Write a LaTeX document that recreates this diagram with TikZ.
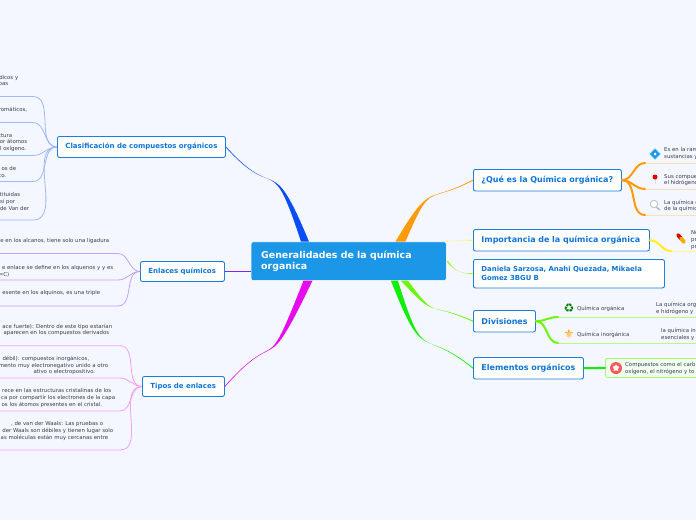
\documentclass[tikz,border=0pt]{standalone}
\usepackage{fontspec}
\setmainfont{DejaVu Sans}
\usepackage{tikz}
\usetikzlibrary{shapes.geometric, arrows.meta, positioning, calc}
\definecolor{pagecol}{HTML}{F4F7FF}
\definecolor{rootcol}{HTML}{1C97E8}
\definecolor{edgecol}{HTML}{1B7FDC}
\definecolor{headcol}{HTML}{0F74D6}
\definecolor{notecol}{HTML}{3C3C48}
\definecolor{bluecol}{HTML}{0B4DF5}
\definecolor{violetcol}{HTML}{7A2BF2}
\definecolor{magcol}{HTML}{E60CEF}
\definecolor{orangecol}{HTML}{FF9A0A}
\definecolor{yellowcol}{HTML}{FFF01A}
\definecolor{limecol}{HTML}{A4F52A}
\definecolor{lightgreen}{HTML}{6CF50F}
\definecolor{greencol}{HTML}{10EE0A}
% right end of a line cut off by the left margin
\newcommand{\cutl}[2]{\makebox[#1pt][r]{#2}}
% tapered branch from the root border to a topic border
\newcommand{\taper}[6]{\fill[#1] ($(#2)+(-#6,0)$) .. controls #4 and #5 .. ($(#3)+(0,-0.55)$) -- ($(#3)+(0,0.55)$) .. controls #5 and #4 .. ($(#2)+(#6,0)$) -- cycle;}
\begin{document}
\begin{tikzpicture}[
    x=1pt, y=-1pt,
    topic/.style={draw=edgecol, line width=0.9pt, rounded corners=2pt, fill=white, text=headcol,
                  font=\fontsize{7}{9}\selectfont\bfseries, inner xsep=8pt, inner ysep=0pt, anchor=north west, align=left},
    rtopic/.style={topic, font=\fontsize{8}{10}\selectfont\bfseries},
    note/.style={text=notecol, font=\fontsize{5.4}{6.6}\selectfont, inner sep=0pt, anchor=west, align=left},
    sub/.style={line width=0.8pt},
    lead/.style={line width=2pt, line cap=round},
    icon/.style={inner sep=0pt, font=\fontsize{12}{12}\selectfont},
]
\fill[pagecol] (0,0) rectangle (696,520);
\useasboundingbox (0,0) rectangle (696,520);
\clip (0,0) rectangle (696,520);
% root and topics
\node[draw=white, line width=0.4pt, fill=rootcol, rounded corners=2pt, inner sep=0pt, anchor=north west,
      minimum width=195pt, minimum height=38.5pt] (root) at (251,241.7) {};
\node[text=white, inner sep=0pt, anchor=west, align=left, font=\fontsize{9.4}{11}\selectfont\bfseries] (roottxt) at (261,261)
     {Generalidades de la química\\organica};
\node[topic, text width=152pt, minimum height=21pt] (clas) at (57,136) {Clasificación de compuestos orgánicos};
\node[topic, text width=68pt, minimum height=20pt] (enla) at (140,261) {Enlaces químicos};
\node[topic, text width=66pt, minimum height=20pt] (tipo) at (142,376) {Tipos de enlaces};
\node[rtopic, text width=132pt, minimum height=21.5pt] (que) at (473,169) {¿Qué es la Química orgánica?};
\node[rtopic, text width=160pt, minimum height=21.5pt] (impo) at (473,229) {Importancia de la química orgánica};
\node[topic, text width=175pt, minimum height=28.5pt, font=\fontsize{6.9}{9}\selectfont\bfseries] (dani) at (473,259) {Daniela Sarzosa, Anahi Quezada, Mikaela\\Gomez 3BGU B};
\node[rtopic, text width=46pt, minimum height=21.5pt] (divi) at (473,310) {Divisiones};
\node[rtopic, text width=94pt, minimum height=21.5pt] (elem) at (473,357) {Elementos orgánicos};
% branches from the root
\taper{bluecol}{$(root.north west)+(54,0)$}{clas.east}{(270,147)}{(278,205)}{4}
\taper{magcol}{$(root.south west)+(57,0)$}{tipo.east}{(262,386)}{(282,322)}{4.5}
\taper{orangecol}{$(root.north east)+(-46,0)$}{que.west}{(432,180)}{(425,205)}{5}
\taper{yellowcol}{$(root.north east)+(-4,0)$}{impo.west}{(455,240)}{(465,240)}{1.5}
\taper{limecol}{$(root.east)+(1,0)$}{dani.west}{(455,273)}{(465,273.5)}{1}
\taper{lightgreen}{$(root.south east)+(-42,0)$}{divi.west}{(438,321)}{(425,300)}{3.5}
\taper{greencol}{$(root.south east)+(-52,0)$}{elem.west}{(425,368)}{(420,325)}{3.5}
\draw[violetcol, line width=0.9pt] (root.west|-enla.east) -- (enla.east);
% clasificacion notes
\coordinate (c1) at (0,96.5);
\coordinate (c2) at (0,122.5);
\coordinate (c3) at (0,155.5);
\coordinate (c4) at (0,181.5);
\coordinate (c5) at (0,220);
\foreach \n in {c1,c2,c3,c4,c5}
  \draw[sub, bluecol!40] (clas.west) to[out=180, in=0] (\n-|33,0) -- (\n);
\node[note] (n1) at (0,81) {\cutl{18}{dicos y}\\\cutl{8}{pas}};
\node[note] (n2) at (0,110) {\cutl{27}{romáticos,}};
\node[note] (n3) at (0,142.5) {\cutl{12}{ctura}\\\cutl{27}{or átomos}\\\cutl{26}{l oxígeno.}};
\node[note] (n4) at (0,172) {\cutl{16}{os de}\\\cutl{6}{co.}};
\node[note] (n5) at (0,201.5) {\cutl{20}{stituidas}\\\cutl{15}{sí por}\\\cutl{29}{de Van der}};
% enlaces notes
\coordinate (e1) at (0,253.5);
\coordinate (e2) at (0,280);
\coordinate (e3) at (0,306);
\foreach \n in {e1,e2,e3}
  \draw[sub, violetcol!45] (enla.west) to[out=180, in=0] (\n-|118,0) -- (\n);
\node[note] (n6) at (0,241) {\cutl{109}{e en los alcanos, tiene solo una ligadura}};
\node[note] (n7) at (0,271) {\cutl{113}{e enlace se define en los alquenos y y es}\\\cutl{9}{=C)}};
\node[note] (n8) at (0,293) {\cutl{100}{esente en los alquinos, es una triple}};
% tipos notes
\coordinate (t1) at (0,345.7);
\coordinate (t2) at (0,378);
\coordinate (t3) at (0,411);
\coordinate (t4) at (0,450);
\foreach \n in {t1,t2,t3,t4}
  \draw[sub, magcol!40] (tipo.west) to[out=180, in=0] (\n-|120,0) -- (\n);
\node[note] (n9) at (0,330) {\cutl{112}{ace fuerte): Dentro de este tipo estarían}\\\cutl{109}{aparecen en los compuestos derivados}};
\node[note] (n10) at (0,365.5) {\cutl{89}{débil): compuestos inorgánicos,}\\\cutl{108}{mento muy electronegativo unido a otro}\\\cutl{95}{ativo o electropositivo.}};
\node[note] (n11) at (0,398) {\cutl{111}{rece en las estructuras cristalinas de los}\\\cutl{115}{ca por compartir los electrones de la capa}\\\cutl{102}{os los átomos presentes en el cristal.}};
\node[note] (n12) at (0,431) {\cutl{103}{, de van der Waals: Las pruebas o}\\\cutl{113}{der Waals son débiles y tienen lugar solo}\\\cutl{108}{las moléculas están muy cercanas entre}};
% que es notes
\coordinate (q1) at (696,163);
\coordinate (q2) at (696,189);
\coordinate (q3) at (696,215);
\draw[sub, orangecol!30] (645,163) -- (q1);
\draw[sub, orangecol!30] (645,189) -- (q2);
\draw[sub, orangecol!30] (645,215) -- (q3);
\draw[lead, orangecol] (que.east) to[out=0, in=180] (645,163);
\draw[lead, orangecol] (que.east) to[out=0, in=180] (645,189);
\draw[lead, orangecol] (que.east) to[out=0, in=180] (645,215);
\node[note] (r1) at (664,153.5) {Es en la ram\\sustancias y};
\node[note] (r2) at (664,180) {Sus compues\\el hidrógeno};
\node[note] (r3) at (664,206) {La química c\\de la químic};
\node[diamond, fill=rootcol, draw=cyan!60, minimum size=11pt, inner sep=0pt] (ic1) at (655,154) {};
\fill[white] (ic1) circle (1.5);
\draw[gray!30, line width=0.7pt] (655,178) -- (655,184);
\node[circle, fill=red!85!black, minimum size=5pt, inner sep=0pt] (ic2) at (655,177) {};
\draw[gray!60, line width=1.2pt] (656,207) -- (660,210);
\node[circle, draw=gray!45, fill=white, line width=1pt, minimum size=7.5pt, inner sep=0pt] (ic3) at (654,204) {};
% importancia note
\coordinate (m1) at (696,251);
\draw[sub, yellowcol!50] (671,251) -- (m1);
\draw[lead, yellowcol] (impo.east) to[out=0, in=180] (671,251);
\node[note] (r4) at (691,240) {No\\pr\\pr};
\draw[red!85!black, line width=3.8pt, line cap=round] (678,235) -- (681,238.5);
\draw[orange!70!yellow, line width=3.8pt, line cap=round] (681,238.5) -- (684,242);
% divisiones notes
\coordinate (d1) at (696,317);
\coordinate (d2) at (696,343);
\draw[sub, lightgreen!50] (558,317) -- (d1);
\draw[sub, lightgreen!50] (558,343) -- (d2);
\draw[lead, lightgreen] (divi.east) to[out=0, in=180] (558,317);
\draw[lead, lightgreen] (divi.east) to[out=0, in=180] (558,343);
\node[note] (r5) at (577,309) {Química orgánica};
\node[note] (r6) at (577,335) {Química inorgánica};
\node[note] (r7) at (656,308.5) {La química org\\e hidrógeno y};
\node[note] (r8) at (661,334.5) {la química in\\esenciales y};
\node[icon, text=green!50!black] (ic4) at (569,308) {♻};
\node[icon, text=orange!70!yellow] (ic5) at (569,334) {⚜};
% elementos note
\node[draw=lightgreen!60, fill=green!6, rounded corners=2pt, line width=0.8pt, anchor=north west, inner sep=0pt,
      minimum width=110pt, minimum height=19pt] (elnote) at (605,358) {};
\draw[lead, greencol] (elem.east) -- (elnote.west);
\node[note] (r9) at (625,368.5) {Compuestos como el carb\\oxígeno, el nitrógeno y to};
\node[circle, fill=red!65!white, minimum size=12pt, inner sep=0pt] (ic6) at (616,368) {};
\node[star, star points=5, fill=white, minimum size=7pt, inner sep=0pt] (ic7) at (ic6) {};
\end{tikzpicture}
\end{document}
